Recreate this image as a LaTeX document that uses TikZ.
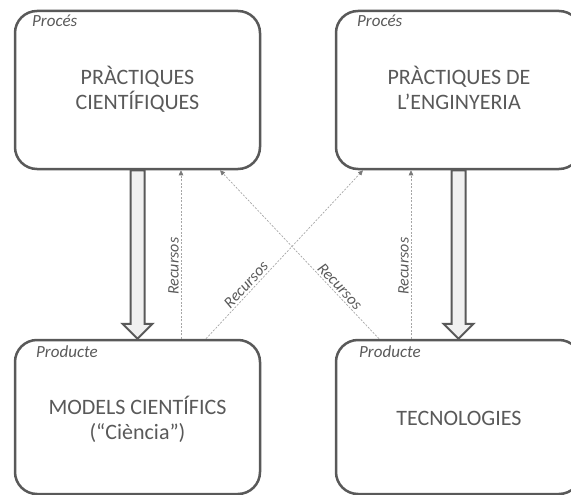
\documentclass[tikz,border=0pt]{standalone}
\usepackage{fontspec}
\setmainfont{Carlito}
\usetikzlibrary{arrows.meta,calc}
\definecolor{ink}{HTML}{595959}
\definecolor{edge}{HTML}{595959}
\definecolor{faint}{HTML}{A6A6A6}
\definecolor{shaft}{HTML}{F0F0F0}
\definecolor{tipc}{HTML}{7A7A7A}

\begin{document}
\begin{tikzpicture}[x=1pt,y=-1pt,
  box/.style={draw=edge, line width=2.5pt, rounded corners=22pt, inner sep=0pt,
              minimum width=245pt, minimum height=158pt},
  title/.style={text=ink, font=\fontsize{22}{25}\selectfont, align=center},
  tag/.style={text=ink, font=\fontsize{17}{19}\selectfont\itshape, anchor=base west, inner sep=0pt},
  bigarrow/.style={draw=edge, line width=2pt, fill=shaft, line join=miter},
  res/.style={draw=faint, line width=0.7pt, dash pattern=on 2pt off 1.5pt,
              -{Triangle[length=5pt,width=4.5pt,color=tipc]}},
  reslabel/.style={text=ink, font=\fontsize{16}{18}\selectfont\itshape, sloped, above, inner sep=2pt}
]
\useasboundingbox (0,0) rectangle (571,495);
\clip (0,0) rectangle (571,495);

% the four boxes
\node[box] (pc) at (137.5,90) {};
\node[box] (pe) at (458.5,90) {};
\node[box, minimum height=154pt] (ml) at (137.5,417) {};
\node[box, minimum height=154pt] (tc) at (458.5,417) {};

% box contents
\node[title] (pcT) at (137.5,89) {PRÀCTIQUES\\CIENTÍFIQUES};
\node[title] (peT) at (459,88) {PRÀCTIQUES DE\\L’ENGINYERIA};
\node[title] (mlT) at (137.5,419) {MODELS CIENTÍFICS\\(“Ciència”)};
\node[title] (tcT) at (459,418) {TECNOLOGIES};

\node[tag] (pcL) at (32,27) {Procés};
\node[tag] (peL) at (357,27) {Procés};
\node[tag] (mlL) at (36,357) {Producte};
\node[tag] (tcL) at (359,357) {Producte};

% hollow block arrows: process -> product
\draw[bigarrow] ($(pc.south)+(-7,0)$) -- ($(ml.north)+(-7,-15)$) -- ($(ml.north)+(-15,-15)$)
  -- (ml.north) -- ($(ml.north)+(15,-15)$) -- ($(ml.north)+(7,-15)$) -- ($(pc.south)+(7,0)$) -- cycle;
\draw[bigarrow] ($(pe.south)+(-7,0)$) -- ($(tc.north)+(-7,-15)$) -- ($(tc.north)+(-15,-15)$)
  -- (tc.north) -- ($(tc.north)+(15,-15)$) -- ($(tc.north)+(7,-15)$) -- ($(pe.south)+(7,0)$) -- cycle;

% resources feeding back
\draw[res] ([xshift=43.5pt]ml.north) -- ([xshift=43.5pt]pc.south)
  node[reslabel, pos=0.43] {Recursos};
\draw[res] ([xshift=-47.5pt]tc.north) -- ([xshift=-47.5pt]pe.south)
  node[reslabel, pos=0.43] {Recursos};
\draw[res] ([xshift=68.5pt]ml.north) -- ([xshift=-95.5pt]pe.south)
  node[reslabel, pos=0.29] {Recursos};
\draw[res] ([xshift=-79.5pt]tc.north) -- ([xshift=82.5pt]pc.south)
  node[reslabel, pos=0.28] {Recursos};
\end{tikzpicture}
\end{document}
